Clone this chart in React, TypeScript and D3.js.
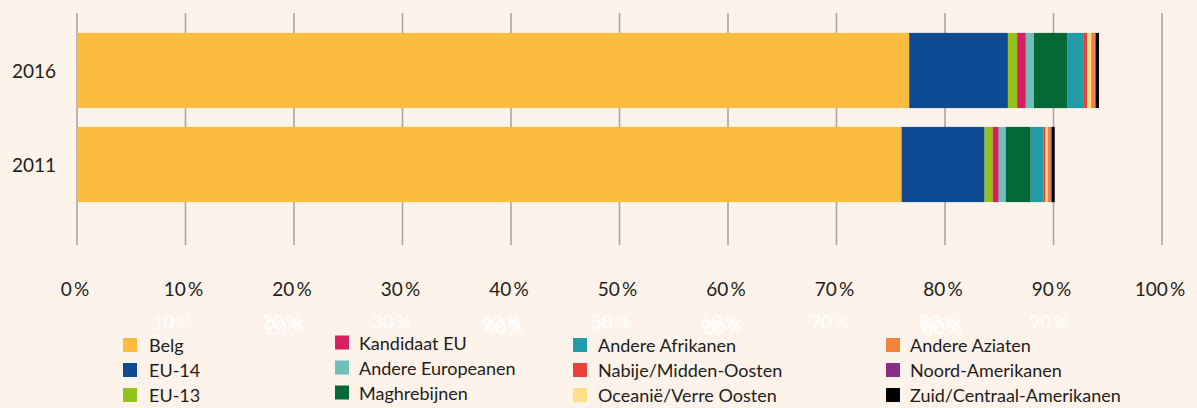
import React from 'react';
import * as d3 from 'd3';

const categories = [
  'Belg', 'EU-14', 'EU-13', 'Kandidaat EU', 'Andere Europeanen', 'Maghrebijnen',
  'Andere Afrikanen', 'Nabije/Midden-Oosten', 'Oceanië/Verre Oosten', 'Andere Aziaten',
  'Noord-Amerikanen', 'Zuid/Centraal-Amerikanen',
];
const colors = [
  '#FDBB40', '#0F4B93', '#95C11F', '#DA1F5E', '#6EC1B8', '#036837',
  '#229CA8', '#E84136', '#FFDE8A', '#F0843A', '#8A2D87', '#000000',
];
const years = ['2016', '2011'];
const values2016 = [76.7, 9.1, 0.85, 0.8, 0.75, 3.05, 1.55, 0.3, 0.37, 0.37, 0.05, 0.3];
const values2011 = [76.0, 7.65, 0.75, 0.55, 0.65, 2.3, 1.2, 0.18, 0.18, 0.28, 0.09, 0.28];
const ticks = [0, 10, 20, 30, 40, 50, 60, 70, 80, 90, 100];
// faint white duplicate labels seen under the axis
const ghostTicks = [10, 20, 20, 30, 40, 40, 50, 60, 60, 70, 80, 80, 90];

const W = 1197;
const H = 408;
const font = 'Lato, "Open Sans", sans-serif';

const App: React.FC = () => {
  const x = d3.scaleLinear().domain([0, 100]).range([77, 1162]);
  const y = d3.scaleBand().domain(years).range([23.5, 211.5]).paddingInner(0.2).paddingOuter(0.1);

  const rows = years.map((yr, i) => {
    const vals = i === 0 ? values2016 : values2011;
    const row: any = { year: yr };
    categories.forEach((c, j) => (row[c] = vals[j]));
    return row;
  });
  const series = d3.stack<any>().keys(categories)(rows);

  const ghostX = d3.scaleLinear().domain([10, 90]).range([172, 1049]);
  const seen: Record<number, number> = {};

  const legendCols = [[123, 149], [335, 359], [573, 598], [886, 910]];
  const legendRows = [345, 370, 395];

  return (
    <div style={{ position: 'fixed', left: 0, top: 0 }}>
      <svg width={W} height={H} style={{ display: 'block', background: '#FDF3EA' }}>
        {ticks.map((t) => (
          <line key={t} x1={x(t)} x2={x(t)} y1={13} y2={245} stroke="#A7A7A7" strokeWidth={1.6} />
        ))}
        {series.map((s, si) => (
          <g key={s.key} fill={colors[si]}>
            {s.map((d, di) => (
              <rect key={di} x={x(d[0])} y={y(d.data.year)} width={Math.max(0, x(d[1]) - x(d[0]))}
                height={y.bandwidth()} />
            ))}
          </g>
        ))}
        {years.map((yr) => (
          <text key={yr} x={34} y={(y(yr) as number) + y.bandwidth() / 2} textAnchor="middle"
            dominantBaseline="central" fontFamily={font} fontSize={19} fill="#1D1D1B">{yr}</text>
        ))}
        {ticks.map((t) => (
          <text key={t} x={x(t) - 2} y={296} textAnchor="middle" fontFamily={font} fontSize={19}
            fill="#1D1D1B">{`${t}\u2009%`}</text>
        ))}
        {ghostTicks.map((t, i) => {
          const n = seen[t] = (seen[t] || 0) + 1;
          return (
            <text key={i} x={ghostX(t) + (n === 2 ? 3 : 0)} y={n === 2 ? 334 : 329} textAnchor="middle"
              fontFamily={font} fontSize={19} fill="#FFFFFF">{`${t}\u2009%`}</text>
          );
        })}
        {categories.map((c, i) => {
          const col = Math.floor(i / 3);
          const r = i % 3;
          const cy = legendRows[r] - (col === 1 ? 2.5 : 0);
          return (
            <g key={c}>
              <rect x={legendCols[col][0]} y={cy - 7} width={14} height={14} fill={colors[i]} />
              <text x={legendCols[col][1]} y={cy} dominantBaseline="central" fontFamily={font}
                fontSize={18} fill="#1D1D1B">{c}</text>
            </g>
          );
        })}
      </svg>
    </div>
  );
};

export default App;
